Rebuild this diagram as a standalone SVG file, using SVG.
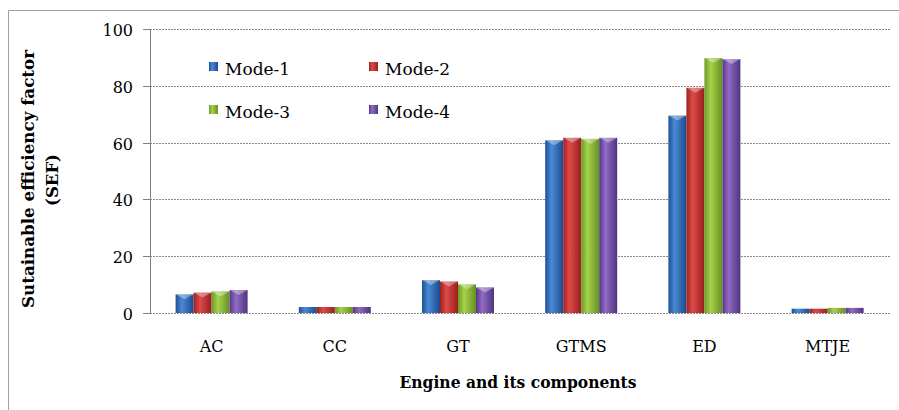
<svg xmlns="http://www.w3.org/2000/svg" width="899" height="410" viewBox="0 0 899 410">
<defs>
<linearGradient id="gB" x1="0" y1="0" x2="1" y2="0"><stop offset="0" stop-color="#1f4f94"/><stop offset="0.35" stop-color="#4a8ad6"/><stop offset="1" stop-color="#1d4a8c"/></linearGradient>
<linearGradient id="gR" x1="0" y1="0" x2="1" y2="0"><stop offset="0" stop-color="#9c2222"/><stop offset="0.35" stop-color="#de4a47"/><stop offset="1" stop-color="#961f1f"/></linearGradient>
<linearGradient id="gG" x1="0" y1="0" x2="1" y2="0"><stop offset="0" stop-color="#6c9a25"/><stop offset="0.35" stop-color="#a6d24c"/><stop offset="1" stop-color="#668f22"/></linearGradient>
<linearGradient id="gP" x1="0" y1="0" x2="1" y2="0"><stop offset="0" stop-color="#553886"/><stop offset="0.35" stop-color="#916bc4"/><stop offset="1" stop-color="#4f3480"/></linearGradient>
</defs>
<style>
.grid{stroke:#8a8a8a;stroke-width:1;stroke-dasharray:2,1;fill:none}
.axis{stroke:#808080;stroke-width:1;fill:none}
.tick{font-family:"DejaVu Serif","Liberation Serif",serif;font-size:16px;fill:#000;text-anchor:end}
.cat{font-family:"DejaVu Serif","Liberation Serif",serif;font-size:16px;fill:#000;text-anchor:middle}
.leg{font-family:"DejaVu Serif","Liberation Serif",serif;font-size:17px;fill:#000}
.title{font-family:"DejaVu Serif","Liberation Serif",serif;font-size:16.5px;font-weight:bold;fill:#000;text-anchor:middle}
.b1{fill:url(#gB)} .b2{fill:url(#gR)} .b3{fill:url(#gG)} .b4{fill:url(#gP)}
.cap{fill:#ffffff;fill-opacity:0.35}
</style>
<rect x="0" y="0" width="899" height="410" fill="#ffffff"/>
<path d="M8.5,410 V10.5 H899" stroke="#a0a0a0" stroke-width="1" fill="none"/>
<g id="gridlines">
<line class="grid" x1="150" y1="29.5" x2="890" y2="29.5"/>
<line class="grid" x1="150" y1="86.5" x2="890" y2="86.5"/>
<line class="grid" x1="150" y1="143.5" x2="890" y2="143.5"/>
<line class="grid" x1="150" y1="199.5" x2="890" y2="199.5"/>
<line class="grid" x1="150" y1="256.5" x2="890" y2="256.5"/>
<line class="grid" x1="150" y1="313.5" x2="890" y2="313.5"/>
</g>
<g id="y-axis">
<line class="axis" x1="150.5" y1="29" x2="150.5" y2="314"/>
<line class="axis" x1="143" y1="29.5" x2="150" y2="29.5"/>
<line class="axis" x1="143" y1="86.5" x2="150" y2="86.5"/>
<line class="axis" x1="143" y1="143.5" x2="150" y2="143.5"/>
<line class="axis" x1="143" y1="199.5" x2="150" y2="199.5"/>
<line class="axis" x1="143" y1="256.5" x2="150" y2="256.5"/>
<line class="axis" x1="143" y1="313.5" x2="150" y2="313.5"/>
<text class="tick" x="133" y="35.5">100</text>
<text class="tick" x="133" y="92.5">80</text>
<text class="tick" x="133" y="149.5">60</text>
<text class="tick" x="133" y="205.5">40</text>
<text class="tick" x="133" y="262.5">20</text>
<text class="tick" x="133" y="319.5">0</text>
</g>
<g id="bars-AC">
<rect class="b1" x="175.6" y="294.3" width="18" height="18.7"/><path class="cap" d="M175.6,294.3 H193.6 L184.6,299.3 Z"/>
<rect class="b2" x="193.6" y="292.6" width="18" height="20.4"/><path class="cap" d="M193.6,292.6 H211.6 L202.6,297.6 Z"/>
<rect class="b3" x="211.6" y="291.4" width="18" height="21.6"/><path class="cap" d="M211.6,291.4 H229.6 L220.6,296.4 Z"/>
<rect class="b4" x="229.6" y="290.0" width="18" height="23"/><path class="cap" d="M229.6,290 H247.6 L238.6,295 Z"/>
</g>
<g id="bars-CC">
<rect class="b1" x="298.8" y="307" width="18" height="6"/>
<rect class="b2" x="316.8" y="307" width="18" height="6"/>
<rect class="b3" x="334.8" y="307" width="18" height="6"/>
<rect class="b4" x="352.8" y="307" width="18" height="6"/>
</g>
<g id="bars-GT">
<rect class="b1" x="422" y="280.1" width="18" height="32.9"/><path class="cap" d="M422,280.1 H440 L431,285.1 Z"/>
<rect class="b2" x="440" y="281.5" width="18" height="31.5"/><path class="cap" d="M440,281.5 H458 L449,286.5 Z"/>
<rect class="b3" x="458" y="284.3" width="18" height="28.7"/><path class="cap" d="M458,284.3 H476 L467,289.3 Z"/>
<rect class="b4" x="476" y="287.4" width="18" height="25.6"/><path class="cap" d="M476,287.4 H494 L485,292.4 Z"/>
</g>
<g id="bars-GTMS">
<rect class="b1" x="545.2" y="140.3" width="18" height="172.7"/><path class="cap" d="M545.2,140.3 H563.2 L554.2,145.3 Z"/>
<rect class="b2" x="563.2" y="137.8" width="18" height="175.2"/><path class="cap" d="M563.2,137.8 H581.2 L572.2,142.8 Z"/>
<rect class="b3" x="581.2" y="138.9" width="18" height="174.1"/><path class="cap" d="M581.2,138.9 H599.2 L590.2,143.9 Z"/>
<rect class="b4" x="599.2" y="137.8" width="18" height="175.2"/><path class="cap" d="M599.2,137.8 H617.2 L608.2,142.8 Z"/>
</g>
<g id="bars-ED">
<rect class="b1" x="668.4" y="115.6" width="18" height="197.4"/><path class="cap" d="M668.4,115.6 H686.4 L677.4,120.6 Z"/>
<rect class="b2" x="686.4" y="87.8" width="18" height="225.2"/><path class="cap" d="M686.4,87.8 H704.4 L695.4,92.8 Z"/>
<rect class="b3" x="704.4" y="58" width="18" height="255"/><path class="cap" d="M704.4,58 H722.4 L713.4,63 Z"/>
<rect class="b4" x="722.4" y="59.1" width="18" height="253.9"/><path class="cap" d="M722.4,59.1 H740.4 L731.4,64.1 Z"/>
</g>
<g id="bars-MTJE">
<rect class="b1" x="791.6" y="308.7" width="18" height="4.3"/>
<rect class="b2" x="809.6" y="308.7" width="18" height="4.3"/>
<rect class="b3" x="827.6" y="307.9" width="18" height="5.1"/>
<rect class="b4" x="845.6" y="307.9" width="18" height="5.1"/>
</g>
<g id="x-labels">
<text class="cat" x="211.6" y="352">AC</text>
<text class="cat" x="334.8" y="352">CC</text>
<text class="cat" x="458" y="352">GT</text>
<text class="cat" x="581.2" y="352">GTMS</text>
<text class="cat" x="704.4" y="352">ED</text>
<text class="cat" x="827.6" y="352">MTJE</text>
</g>
<g id="legend">
<rect class="b1" x="209" y="62" width="9" height="9"/><text class="leg" x="225" y="75">Mode-1</text>
<rect class="b2" x="369" y="62" width="9" height="9"/><text class="leg" x="385" y="75">Mode-2</text>
<rect class="b3" x="209" y="105" width="9" height="9"/><text class="leg" x="225" y="118">Mode-3</text>
<rect class="b4" x="369" y="105" width="9" height="9"/><text class="leg" x="385" y="118">Mode-4</text>
</g>
<g id="axis-titles">
<text class="title" transform="translate(34,179) rotate(-90)" textLength="258" lengthAdjust="spacingAndGlyphs">Sutainable efficiency factor</text>
<text class="title" transform="translate(58,180) rotate(-90)">(SEF)</text>
<text class="title" x="518" y="388" textLength="237" lengthAdjust="spacingAndGlyphs">Engine and its components</text>
</g>
</svg>
